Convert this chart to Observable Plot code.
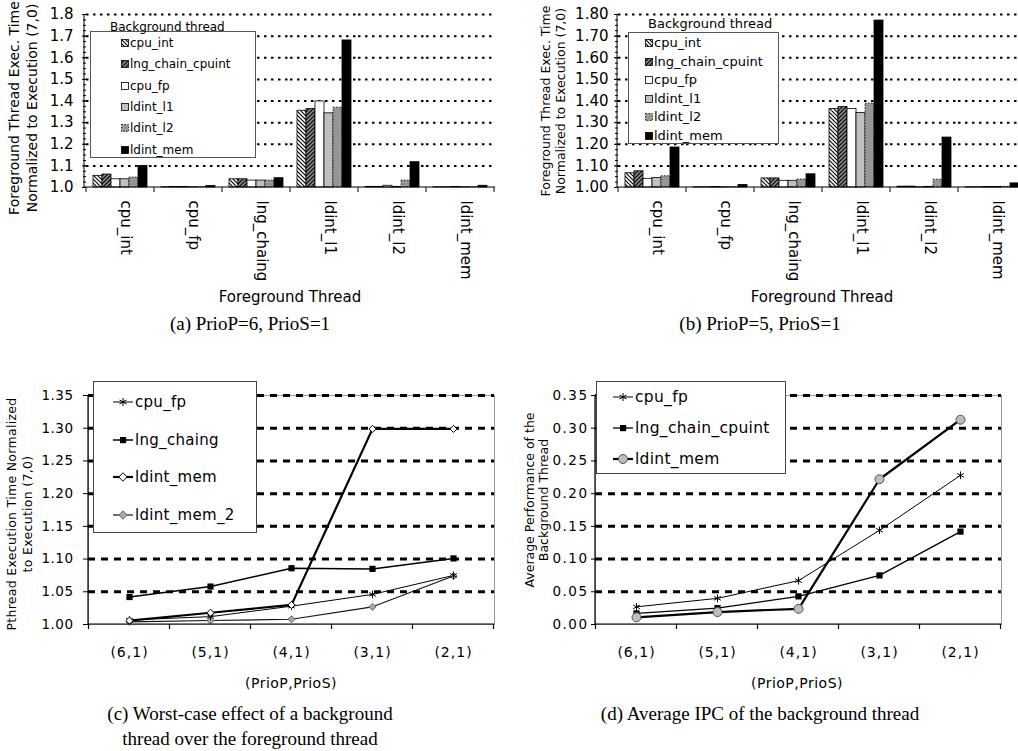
<!DOCTYPE html>
<html><head><meta charset="utf-8">
<script src="https://cdn.jsdelivr.net/npm/d3@7"></script>
<script src="https://cdn.jsdelivr.net/npm/@observablehq/plot@0.6"></script>
<style>
html,body{margin:0;padding:0;background:#fff;overflow:hidden;}
#root{position:relative;width:1018px;height:751px;overflow:hidden;font-family:"DejaVu Sans",sans-serif;color:#000;}
.ytitle{position:absolute;transform:translate(-50%,-50%) rotate(-90deg);white-space:nowrap;text-align:center;}
.ctext{position:absolute;transform:translate(-50%,-50%);white-space:nowrap;text-align:center;}
.cap{position:absolute;transform:translateX(-50%);font-family:"Liberation Serif",serif;font-size:19px;line-height:25px;white-space:nowrap;text-align:center;}
.legend{position:absolute;background:#fff;border:1px solid #555;box-sizing:border-box;}
</style></head><body>
<svg width="0" height="0" style="position:absolute;left:0;top:0"><defs>
<pattern id="hatchBack" patternUnits="userSpaceOnUse" width="4" height="4">
<rect width="4" height="4" fill="#fff"/>
<path d="M-1,-1 L5,5 M3,-1 L5,1 M-1,3 L1,5" stroke="#000" stroke-width="1.1"/>
</pattern>
<pattern id="hatchFwd" patternUnits="userSpaceOnUse" width="4" height="4">
<rect width="4" height="4" fill="#8a8a8a"/>
<path d="M-1,5 L5,-1 M-1,1 L1,-1 M3,5 L5,3" stroke="#000" stroke-width="1.2"/>
</pattern>
</defs></svg>
<div id="root"></div>
<script>
// ---------- DATA ----------
const fgThreads = ["cpu_int", "cpu_fp", "lng_chaing", "ldint_l1", "ldint_l2", "ldint_mem"];
const bgThreads = ["cpu_int", "lng_chain_cpuint", "cpu_fp", "ldint_l1", "ldint_l2", "ldint_mem"];
const yTicksA = [1.0, 1.1, 1.2, 1.3, 1.4, 1.5, 1.6, 1.7, 1.8];
const yTicksB = [1.0, 1.1, 1.2, 1.3, 1.4, 1.5, 1.6, 1.7, 1.8];

// (a) PrioP=6, PrioS=1 : one array per background thread, over fgThreads
const a_cpu_int   = [1.054, 1.001, 1.038, 1.355, 1.003, 1.001];
const a_lng_chain = [1.060, 1.002, 1.038, 1.363, 1.003, 1.001];
const a_cpu_fp    = [1.038, 1.002, 1.032, 1.398, 1.008, 1.002];
const a_ldint_l1  = [1.038, 1.001, 1.032, 1.343, 1.002, 1.001];
const a_ldint_l2  = [1.046, 1.002, 1.032, 1.369, 1.032, 1.002];
const a_ldint_mem = [1.100, 1.007, 1.043, 1.680, 1.117, 1.008];

// (b) PrioP=5, PrioS=1
const b_cpu_int   = [1.066, 1.001, 1.042, 1.363, 1.004, 1.001];
const b_lng_chain = [1.075, 1.001, 1.042, 1.372, 1.004, 1.001];
const b_cpu_fp    = [1.040, 1.002, 1.031, 1.363, 1.001, 1.002];
const b_ldint_l1  = [1.044, 1.001, 1.031, 1.345, 1.003, 1.002];
const b_ldint_l2  = [1.052, 1.001, 1.037, 1.388, 1.036, 1.003];
const b_ldint_mem = [1.185, 1.012, 1.061, 1.772, 1.231, 1.019];

// (c) and (d)
const prioCats = ["(6,1)", "(5,1)", "(4,1)", "(3,1)", "(2,1)"];
const yTicksC = [1.00, 1.05, 1.10, 1.15, 1.20, 1.25, 1.30, 1.35];
const c_cpu_fp      = [1.007, 1.012, 1.028, 1.046, 1.075];
const c_lng_chaing  = [1.042, 1.058, 1.086, 1.085, 1.101];
const c_ldint_mem   = [1.006, 1.018, 1.030, 1.299, 1.299];
const c_ldint_mem_2 = [1.004, 1.006, 1.008, 1.027, 1.074];

const yTicksD = [0.00, 0.05, 0.10, 0.15, 0.20, 0.25, 0.30, 0.35];
const d_cpu_fp     = [0.027, 0.040, 0.067, 0.144, 0.228];
const d_lng_chain  = [0.017, 0.025, 0.043, 0.075, 0.142];
const d_ldint_mem  = [0.011, 0.019, 0.024, 0.222, 0.313];

// ---------- STYLES ----------
const barStyles = {
  cpu_int: {fill: "url(#hatchBack)"},
  lng_chain_cpuint: {fill: "url(#hatchFwd)"},
  cpu_fp: {fill: "#ffffff"},
  ldint_l1: {fill: "#c0c0c0"},
  ldint_l2: {fill: "#969696", dash: "1.5,1.5"},
  ldint_mem: {fill: "#000000"}
};
const FONT = '"DejaVu Sans", sans-serif';
const root = document.getElementById("root");

function div(cls, html, styles) {
  const d = document.createElement("div");
  if (cls) d.className = cls;
  d.innerHTML = html;
  Object.assign(d.style, styles || {});
  root.appendChild(d);
  return d;
}

// ---------- BAR PANEL ----------
function barPanel(cfg) {
  const {values, yTicks, fmt, left, top, width, height, ml, mr, mt, mb, tickSize, tickPad} = cfg;
  const rows = [];
  bgThreads.forEach((bg, j) => values[j].forEach((v, i) => rows.push({fg: fgThreads[i], bg, v})));
  const yMin = yTicks[0], yMax = yTicks[yTicks.length - 1];
  const nMinor = Math.round((yMax - yMin) / 0.025);
  const minor = d3.range(nMinor + 1).map(k => +(yMin + k * 0.025).toFixed(3));
  const marks = [
    Plot.ruleY(yTicks.slice(1), {stroke: "#000", strokeWidth: 2, strokeDasharray: "2.5,4.5"}),
    ...bgThreads.map(bg => Plot.barY(rows.filter(r => r.bg === bg), {
      fx: "fg", x: "bg", y1: yMin, y2: "v",
      fill: barStyles[bg].fill, stroke: "#000", strokeWidth: 0.8,
      strokeDasharray: barStyles[bg].dash
    })),
    Plot.text(fgThreads, {fx: d => d, text: d => d, frameAnchor: "bottom", dy: 13, rotate: 90,
      textAnchor: "start", fontSize: 15}),
    Plot.axisY(minor, {tickSize: 3, tickFormat: () => "", label: null}),
    Plot.axisY(yTicks, {tickSize, tickPadding: tickPad, tickFormat: d3.format(fmt), fontSize: 15, label: null})
  ];
  const svg = Plot.plot({
    width, height, marginLeft: ml, marginRight: mr, marginTop: mt, marginBottom: mb,
    fx: {domain: fgThreads, padding: 0, axis: null},
    x: {domain: bgThreads, paddingInner: 0, paddingOuter: 0.75, axis: null},
    y: {domain: [yMin, yMax], label: null},
    style: {fontFamily: FONT, background: "transparent", color: "#000", overflow: "visible"},
    marks
  });
  const ys = svg.scale("y");
  const y0 = ys.apply(yMin), yT = ys.apply(yMax);
  const g = d3.select(svg).append("g").attr("stroke", "#000").attr("stroke-width", 1);
  g.append("line").attr("x1", ml).attr("x2", ml).attr("y1", yT).attr("y2", y0);
  g.append("line").attr("x1", ml).attr("x2", width - mr).attr("y1", y0).attr("y2", y0);
  let bounds;
  try {
    const fx = svg.scale("fx");
    bounds = fgThreads.map(c => fx.apply(c));
    bounds.push(fx.apply(fgThreads[fgThreads.length - 1]) + fx.bandwidth);
    if (bounds.some(b => !isFinite(b))) throw 0;
  } catch (e) {
    const st = (width - ml - mr) / fgThreads.length;
    bounds = d3.range(fgThreads.length + 1).map(i => ml + i * st);
  }
  bounds.forEach(b => g.append("line").attr("x1", b).attr("x2", b).attr("y1", y0).attr("y2", y0 + 5));
  svg.style.position = "absolute";
  svg.style.left = left + "px";
  svg.style.top = top + "px";
  root.appendChild(svg);
  return svg;
}

// ---------- LINE PANEL ----------
function linePanel(cfg) {
  const {series, yTicks, fmt, left, top, width, height, ml, mr, mt, mb, tickSize, tickPad, yFont, yLetter} = cfg;
  const yMin = yTicks[0], yMax = yTicks[yTicks.length - 1];
  const marks = [
    Plot.frame({stroke: "#999"}),
    Plot.ruleY(yTicks.slice(1), {stroke: "#000", strokeWidth: 3, strokeDasharray: "7,6"})
  ];
  const sets = series.map(s => ({s, rows: s.values.map((v, i) => ({x: prioCats[i], v}))}));
  sets.forEach(({s, rows}) => marks.push(Plot.line(rows, {x: "x", y: "v", stroke: s.lineColor || "#000", strokeWidth: s.lw})));
  sets.forEach(({s, rows}) => marks.push(Plot.dot(rows, {x: "x", y: "v", symbol: s.symbol, r: s.r,
    fill: s.fill, stroke: s.stroke, strokeWidth: s.sw})));
  marks.push(
    Plot.axisX({tickSize: 0, tickPadding: 23, fontSize: 14, label: null}),
    Plot.axisY(yTicks, {tickSize, tickPadding: tickPad, tickFormat: d3.format(fmt), fontSize: yFont, label: null})
  );
  const svg = Plot.plot({
    width, height, marginLeft: ml, marginRight: mr, marginTop: mt, marginBottom: mb,
    x: {type: "point", domain: prioCats, padding: 0.5, label: null},
    y: {domain: [yMin, yMax], label: null},
    style: {fontFamily: FONT, background: "transparent", color: "#000", overflow: "visible"},
    marks
  });
  const xs = svg.scale("x"), ys = svg.scale("y");
  const y0 = ys.apply(yMin), yT = ys.apply(yMax);
  const g = d3.select(svg).append("g").attr("stroke", "#000").attr("stroke-width", 1.2);
  g.append("line").attr("x1", ml).attr("x2", ml).attr("y1", yT).attr("y2", y0);
  g.append("line").attr("x1", ml).attr("x2", width - mr).attr("y1", y0).attr("y2", y0);
  const px = prioCats.map(c => xs.apply(c));
  const st = px[1] - px[0];
  const bounds = px.map(p => p - st / 2).concat([px[px.length - 1] + st / 2]);
  bounds.forEach(b => g.append("line").attr("x1", b).attr("x2", b).attr("y1", y0).attr("y2", y0 + 5));
  d3.select(svg).selectAll('[aria-label="y-axis tick label"] text').style("letter-spacing", yLetter + "px");
  d3.select(svg).selectAll('[aria-label="x-axis tick label"] text').style("letter-spacing", "1px");
  svg.style.position = "absolute";
  svg.style.left = left + "px";
  svg.style.top = top + "px";
  root.appendChild(svg);
  return svg;
}

// ---------- LEGENDS ----------
function barLegend({left, top, w, h, titleLeft, titleTop, titleFont, itemTop, itemStep, swLeft, txtLeft, font}) {
  div("legend", "", {left: left + "px", top: top + "px", width: w + "px", height: h + "px"});
  div("", "Background thread", {position: "absolute", left: titleLeft + "px", top: titleTop + "px",
    fontSize: titleFont + "px", lineHeight: "14px", whiteSpace: "nowrap"});
  bgThreads.forEach((bg, k) => {
    const st = barStyles[bg];
    const cy = itemTop + k * itemStep;
    div("", `<svg width="8" height="8" style="display:block"><rect x="0.5" y="0.5" width="7" height="7" fill="${st.fill}" stroke="#000" stroke-width="0.8" ${st.dash ? `stroke-dasharray="${st.dash}"` : ""}/></svg>`,
      {position: "absolute", left: swLeft + "px", top: (cy - 4) + "px"});
    div("", bg, {position: "absolute", left: txtLeft + "px", top: (cy - 8) + "px", fontSize: font + "px",
      lineHeight: "16px", whiteSpace: "nowrap"});
  });
}
function markerSvg(s) {
  let m = "";
  if (s.symbol === "asterisk") {
    m = `<path d="M11,2 L11,10 M7.5,4 L14.5,8 M7.5,8 L14.5,4" stroke="#000" stroke-width="1" fill="none"/>`;
  } else if (s.symbol === "square") {
    m = `<rect x="8" y="3" width="6.2" height="6.2" fill="#000"/>`;
  } else if (s.symbol === "diamond2") {
    m = `<polygon points="11,1.8 15.2,6 11,10.2 6.8,6" fill="${s.fill}" stroke="${s.stroke}" stroke-width="1"/>`;
  } else if (s.symbol === "circle") {
    m = `<circle cx="11" cy="6" r="4.5" fill="${s.fill}" stroke="${s.stroke}" stroke-width="1"/>`;
  }
  return `<svg width="22" height="12" style="display:block"><line x1="1" x2="21" y1="6" y2="6" stroke="#000" stroke-width="${Math.max(1, s.lw)}"/>${m}</svg>`;
}
function lineLegend(series, {left, top, w, h, itemTop, itemStep, mkLeft, txtLeft, font}) {
  div("legend", "", {left: left + "px", top: top + "px", width: w + "px", height: h + "px", borderColor: "#444"});
  series.forEach((s, k) => {
    const cy = itemTop + k * itemStep;
    div("", markerSvg(s), {position: "absolute", left: mkLeft + "px", top: (cy - 6) + "px"});
    div("", s.name, {position: "absolute", left: txtLeft + "px", top: (cy - 10) + "px", fontSize: font + "px",
      lineHeight: "20px", whiteSpace: "nowrap", letterSpacing: "0.3px"});
  });
}

// ---------- PANEL (a) ----------
barPanel({values: [a_cpu_int, a_lng_chain, a_cpu_fp, a_ldint_l1, a_ldint_l2, a_ldint_mem],
  yTicks: yTicksA, fmt: ".1f", left: 0, top: 0, width: 500, height: 320,
  ml: 84, mr: 5, mt: 14, mb: 133, tickSize: 4, tickPad: 9});
barLegend({left: 90, top: 31, w: 166, h: 127, titleLeft: 110, titleTop: 20, titleFont: 12,
  itemTop: 43, itemStep: 21.3, swLeft: 121, txtLeft: 130, font: 12});
div("ytitle", "Foreground Thread Exec. Time<br>Normalized to Execution (7,0)",
  {left: "23px", top: "108px", fontSize: "14px", lineHeight: "18px"});
div("ctext", "Foreground Thread", {left: "290px", top: "297px", fontSize: "15px"});
div("cap", "(a) PrioP=6, PrioS=1", {left: "250px", top: "311px"});

// ---------- PANEL (b) ----------
barPanel({values: [b_cpu_int, b_lng_chain, b_cpu_fp, b_ldint_l1, b_ldint_l2, b_ldint_mem],
  yTicks: yTicksB, fmt: ".2f", left: 500, top: 0, width: 540, height: 320,
  ml: 117, mr: 14, mt: 14, mb: 133, tickSize: 4, tickPad: 6});
barLegend({left: 628, top: 32, w: 151, h: 112, titleLeft: 648, titleTop: 17, titleFont: 13,
  itemTop: 43, itemStep: 18.6, swLeft: 645, txtLeft: 654, font: 13});
div("ytitle", "Foreground Thread Exec. Time<br>Normalized to Execution (7,0)",
  {left: "553px", top: "101px", fontSize: "12.5px", lineHeight: "15px"});
div("ctext", "Foreground Thread", {left: "822px", top: "297px", fontSize: "15px"});
div("cap", "(b) PrioP=5, PrioS=1", {left: "760px", top: "311px"});

// ---------- PANEL (c) ----------
const seriesC = [
  {name: "cpu_fp", values: c_cpu_fp, symbol: "asterisk", r: 3.6, fill: "none", stroke: "#000", sw: 1, lw: 1},
  {name: "lng_chaing", values: c_lng_chaing, symbol: "square", r: 3.5, fill: "#000", stroke: "none", sw: 0, lw: 1.5},
  {name: "ldint_mem", values: c_ldint_mem, symbol: "diamond2", r: 3.2, fill: "#fff", stroke: "#000", sw: 1, lw: 2.2},
  {name: "ldint_mem_2", values: c_ldint_mem_2, symbol: "diamond2", r: 3.2, fill: "#a8a8a8", stroke: "#666", sw: 1, lw: 1.1, lineColor: "#111"}
];
const drawC = [seriesC[3], seriesC[0], seriesC[1], seriesC[2]];
linePanel({series: drawC, yTicks: yTicksC, fmt: ".2f", left: 0, top: 370, width: 510, height: 290,
  ml: 88, mr: 16, mt: 25, mb: 36, tickSize: 5, tickPad: 10, yFont: 13.5, yLetter: 0.5});
lineLegend(seriesC, {left: 93, top: 381, w: 164, h: 152, itemTop: 402, itemStep: 37.7, mkLeft: 112, txtLeft: 135, font: 15});
div("ytitle", "Pthread Execution Time Normalized<br>to Execution (7,0)",
  {left: "20px", top: "514px", fontSize: "12.5px", lineHeight: "16px", letterSpacing: "0.3px"});
div("ctext", "(PrioP,PrioS)", {left: "291px", top: "683px", fontSize: "14px", letterSpacing: "0.5px"});
div("cap", "(c) Worst-case effect of a background<br>thread over the foreground thread", {left: "250px", top: "701px"});

// ---------- PANEL (d) ----------
const seriesD = [
  {name: "cpu_fp", values: d_cpu_fp, symbol: "asterisk", r: 3.6, fill: "none", stroke: "#000", sw: 1, lw: 1},
  {name: "lng_chain_cpuint", values: d_lng_chain, symbol: "square", r: 3.5, fill: "#000", stroke: "none", sw: 0, lw: 1.3},
  {name: "ldint_mem", values: d_ldint_mem, symbol: "circle", r: 4.5, fill: "#bdbdbd", stroke: "#555", sw: 1, lw: 2.2}
];
linePanel({series: seriesD, yTicks: yTicksD, fmt: ".2f", left: 500, top: 370, width: 518, height: 290,
  ml: 95, mr: 17, mt: 25, mb: 36, tickSize: 4, tickPad: 3, yFont: 13.5, yLetter: 1.5});
lineLegend(seriesD, {left: 596, top: 381, w: 190, h: 93, itemTop: 397, itemStep: 31, mkLeft: 612, txtLeft: 635, font: 15.5});
div("ytitle", "Average Performance of the<br>Background Thread",
  {left: "537px", top: "500px", fontSize: "12.5px", lineHeight: "14px"});
div("ctext", "(PrioP,PrioS)", {left: "797px", top: "683px", fontSize: "14px", letterSpacing: "0.5px"});
div("cap", "(d) Average IPC of the background thread", {left: "760px", top: "701px"});
</script>
</body></html>
